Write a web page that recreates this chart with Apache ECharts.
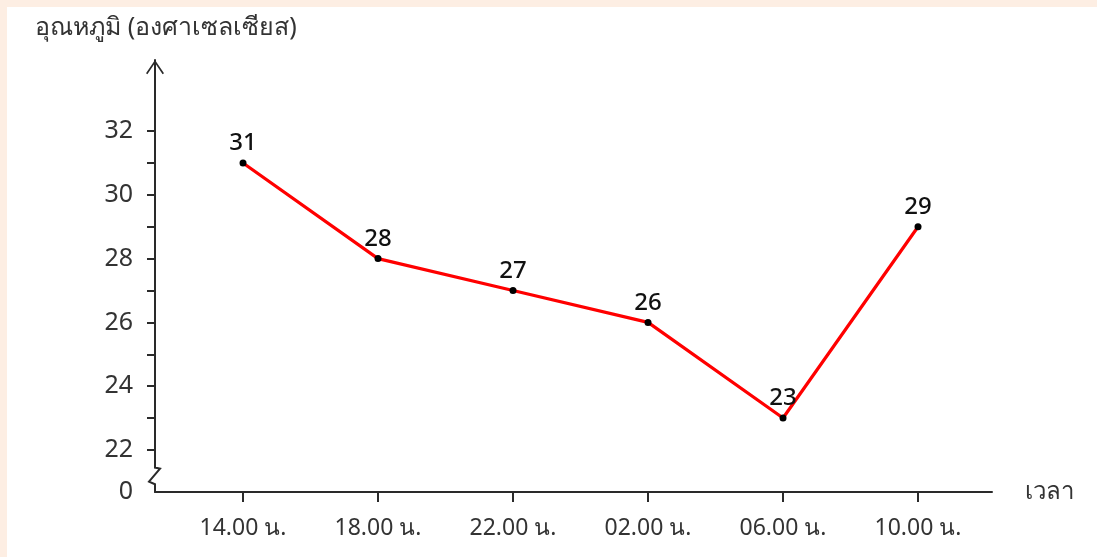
<!DOCTYPE html>
<html><head><meta charset="utf-8">
<script src="https://cdn.jsdelivr.net/npm/echarts@6/dist/echarts.min.js"></script>
<style>
html,body{margin:0;padding:0;background:#fdeee3;overflow:hidden;}
#c{position:absolute;left:7px;top:7px;width:1090px;height:550px;background:#fff;}
</style></head><body><div id="c"></div>
<script>
const categories = ['14.00 น.', '18.00 น.', '22.00 น.', '02.00 น.', '06.00 น.', '10.00 น.'];
const temperatures = [31, 28, 27, 26, 23, 29];
const yLabelValues = [22, 24, 26, 28, 30, 32];
const yTickValues = [22, 23, 24, 25, 26, 27, 28, 29, 30, 31, 32];
const yTitle = 'อุณหภูมิ (องศาเซลเซียส)';
const xTitle = 'เวลา';

const Y_MIN = 20.68, Y_MAX = 34.23;
const X_MIN = -0.652, X_MAX = 5.548;
const FONT = "'Noto Sans', 'DejaVu Sans', sans-serif";
const points = temperatures.map((v, i) => [i, v]);
const catIdx = categories.map((c, i) => i);

const arrowPath = 'path://M9,0.7L9.01,0.71Z M0,28.3L9,15L18,28.3L16.6,29.3L9,18.1L1.4,29.3Z';

const chart = echarts.init(document.getElementById('c'), null, {renderer: 'canvas'});
chart.setOption({
  animation: false,
  backgroundColor: '#ffffff',
  grid: {left: 148, top: 53, width: 837, height: 432, containLabel: false},
  xAxis: {
    type: 'value', min: X_MIN, max: X_MAX,
    splitLine: {show: false},
    axisLine: {show: true, onZero: false, lineStyle: {color: '#2a2a2a', width: 2}},
    axisTick: {show: true, customValues: catIdx, length: 10, inside: false, lineStyle: {color: '#2a2a2a', width: 2}},
    axisLabel: {customValues: catIdx, formatter: v => categories[Math.round(v)] || '', margin: 25, fontSize: 23, color: '#333', fontFamily: FONT},
    name: xTitle, nameLocation: 'end', nameGap: 33,
    nameTextStyle: {fontSize: 24, color: '#333', fontFamily: FONT, padding: [6, 0, 0, 0]}
  },
  yAxis: {
    type: 'value', min: Y_MIN, max: Y_MAX,
    splitLine: {show: false},
    axisLine: {show: true, onZero: false, symbol: ['none', arrowPath], symbolSize: [18, 28.6], lineStyle: {color: '#2a2a2a', width: 2}},
    axisTick: {show: true, customValues: yTickValues, length: 8, inside: false, lineStyle: {color: '#2a2a2a', width: 2}},
    axisLabel: {customValues: [Y_MIN].concat(yLabelValues), formatter: v => (v < 21 ? '0' : String(v)), margin: 22, fontSize: 25, color: '#333', fontFamily: FONT},
    name: yTitle, nameLocation: 'end', nameGap: 20,
    nameTextStyle: {fontSize: 25, color: '#333', fontFamily: FONT, padding: [0, 0, 0, 22]}
  },
  series: [{
    type: 'line', data: points,
    lineStyle: {color: '#ff0000', width: 3.2},
    symbol: 'circle', symbolSize: 7,
    itemStyle: {color: '#000'},
    label: {show: true, position: 'top', distance: 4, formatter: p => String(p.value[1]), fontSize: 24, fontWeight: 500, color: '#111', fontFamily: FONT},
    z: 3
  }]
});

// axis break zigzag on the y axis, anchored to the axis scale
function drawBreak() {
  const base = chart.convertToPixel({gridIndex: 0}, [X_MIN, Y_MIN]);
  const p22 = chart.convertToPixel({gridIndex: 0}, [X_MIN, 22]);
  const x = base[0];
  const span = base[1] - p22[1];
  const yTop = p22[1] + span * 0.42;
  const yBot = p22[1] + span * 0.84;
  chart.setOption({
    graphic: [
      {type: 'rect', shape: {x: x - 3, y: yTop, width: 6, height: yBot - yTop}, style: {fill: '#fff'}, z: 10},
      {type: 'polyline', shape: {points: [[x, yTop - 1], [x, yTop], [x + 5, yTop + 1], [x - 6, yTop + 14], [x, yBot - 1], [x, yBot + 1]]},
       style: {stroke: '#2a2a2a', lineWidth: 2, fill: null, lineJoin: 'miter'}, z: 11}
    ]
  });
}
drawBreak();
</script></body></html>
